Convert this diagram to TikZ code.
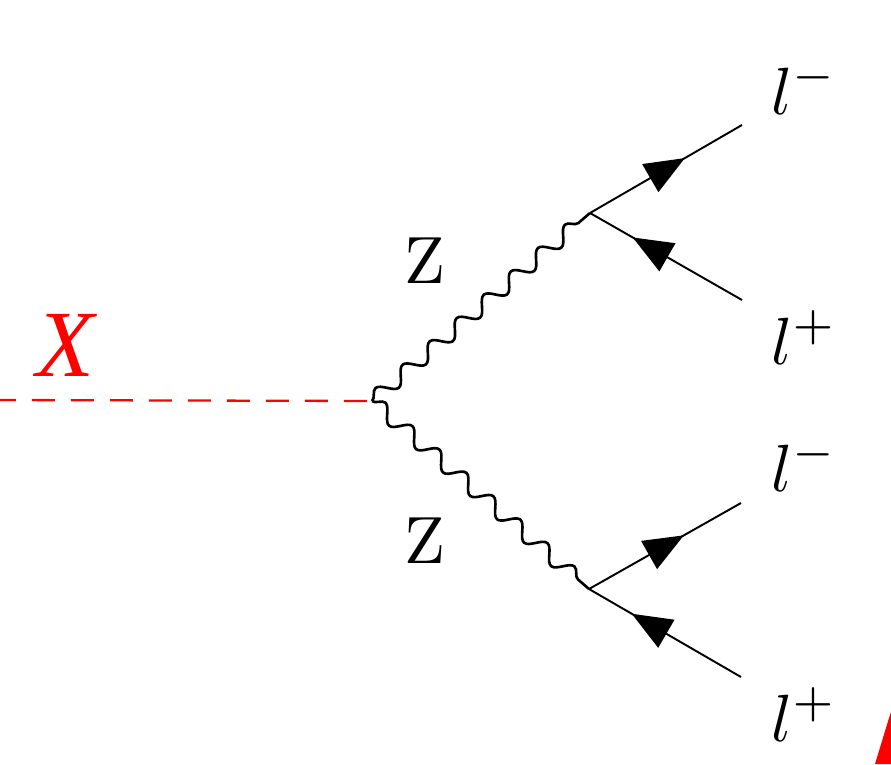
\documentclass[tikz,border=0pt]{standalone}
\usepackage{fontspec}
\newfontfamily\timesfont{Liberation Serif}
\usetikzlibrary{arrows.meta,decorations.pathmorphing,decorations.markings}
\tikzset{
  fermion/.style={line width=1.1pt, postaction={decorate},
    decoration={markings, mark=at position #1 with {\arrow{Triangle[length=0.8cm,width=0.64cm]}}}},
  fermion/.default=0.625,
  boson/.style={line width=1.5pt, decorate,
    decoration={snake, amplitude=0.15cm, segment length=0.715cm}},
  scalar/.style={red, line width=1.3pt, dash pattern=on 0.46cm off 0.32cm, dash phase=0.14cm},
  lbl/.style={inner sep=0pt, scale=3.8},
  xlbl/.style={inner sep=0pt, red, font=\fontsize{54}{56}\selectfont\timesfont\itshape}
}
\begin{document}
\begin{tikzpicture}[x=0.02cm, y=-0.02cm]
  \useasboundingbox (0,0) rectangle (891,764);

  \coordinate (xin) at (0,400);
  \coordinate (v) at (372,401);
  \coordinate (vu) at (590,213);
  \coordinate (vd) at (589,589);
  \coordinate (eu1) at (742,125);
  \coordinate (eu2) at (742,300);
  \coordinate (ed1) at (741,503);
  \coordinate (ed2) at (741,677);

  \draw[scalar] (xin) -- (v);
  \draw[boson] (v) -- (vu);
  \draw[boson] (v) -- (vd);

  \draw[fermion] (vu) -- (eu1);
  \draw[fermion=0.72] (eu2) -- (vu);
  \draw[fermion] (vd) -- (ed1);
  \draw[fermion=0.72] (ed2) -- (vd);

  \node[xlbl] (xlab) at (65,345) {X};
  \node[lbl] (zu) at (425,261) {Z};
  \node[lbl] (zd) at (425,541) {Z};
  \node[lbl, anchor=base west] (lm1) at (770,114) {$l^-$};
  \node[lbl, anchor=base west] (lp1) at (770,364) {$l^+$};
  \node[lbl, anchor=base west] (lm2) at (770,491) {$l^-$};
  \node[lbl, anchor=base west] (lp2) at (770,741) {$l^+$};

  \fill[red] (875,764) -- (889,718) -- (891,712) -- (891,764) -- cycle;
\end{tikzpicture}
\end{document}
